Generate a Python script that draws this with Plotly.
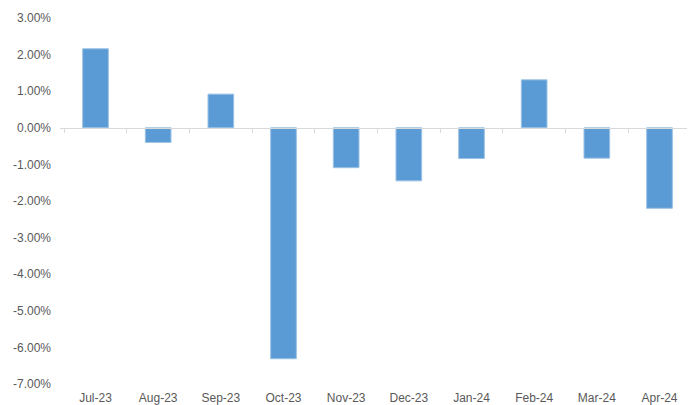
import plotly.graph_objects as go

months = ["Jul-23", "Aug-23", "Sep-23", "Oct-23", "Nov-23", "Dec-23",
          "Jan-24", "Feb-24", "Mar-24", "Apr-24"]
returns = [0.0216, -0.0040, 0.0092, -0.0631, -0.0109, -0.0145,
           -0.0084, 0.0131, -0.0083, -0.0220]
y_tick_vals = [0.03, 0.02, 0.01, 0.0, -0.01, -0.02, -0.03, -0.04, -0.05, -0.06, -0.07]
y_tick_text = ["3.00%", "2.00%", "1.00%", "0.00%", "-1.00%", "-2.00%",
               "-3.00%", "-4.00%", "-5.00%", "-6.00%", "-7.00%"]
y_min, y_max = -0.07, 0.03

fig = go.Figure()
fig.add_trace(go.Bar(
    x=months, y=returns, xaxis="x", yaxis="y",
    marker=dict(color="#5B9BD5", line=dict(color="#9CC2E5", width=1)),
    hovertemplate="%{x}: %{y:.2%}<extra></extra>",
))
# invisible trace to carry the axis drawn at zero with boundary ticks
fig.add_trace(go.Scatter(
    x=months, y=returns, xaxis="x2", yaxis="y",
    mode="markers", marker=dict(opacity=0), hoverinfo="skip", showlegend=False,
))

font = dict(family="Liberation Sans, Arial, sans-serif", size=12, color="#595959")
zero_pos = (0 - y_min) / (y_max - y_min)

fig.update_layout(
    width=687, height=397,
    margin=dict(l=52, r=0, t=10, b=21),
    paper_bgcolor="white", plot_bgcolor="white",
    showlegend=False, bargap=0.59,
    font=font,
    xaxis=dict(
        type="category", showline=False, ticks="", showgrid=False,
        zeroline=False, tickfont=font, ticklabelstandoff=5, automargin=False,
    ),
    xaxis2=dict(
        type="category", overlaying="x", matches="x", anchor="free",
        position=zero_pos, showticklabels=False, showline=True,
        linecolor="#D9D9D9", linewidth=1, ticks="outside", tickson="boundaries",
        ticklen=4, tickcolor="#D9D9D9", showgrid=False, zeroline=False,
    ),
    yaxis=dict(
        range=[y_min, y_max], tickmode="array",
        tickvals=y_tick_vals, ticktext=y_tick_text,
        showgrid=False, zeroline=False, showline=False, ticks="",
        tickfont=font, ticklabelstandoff=8, automargin=False,
    ),
)

fig.write_html("out.html")
